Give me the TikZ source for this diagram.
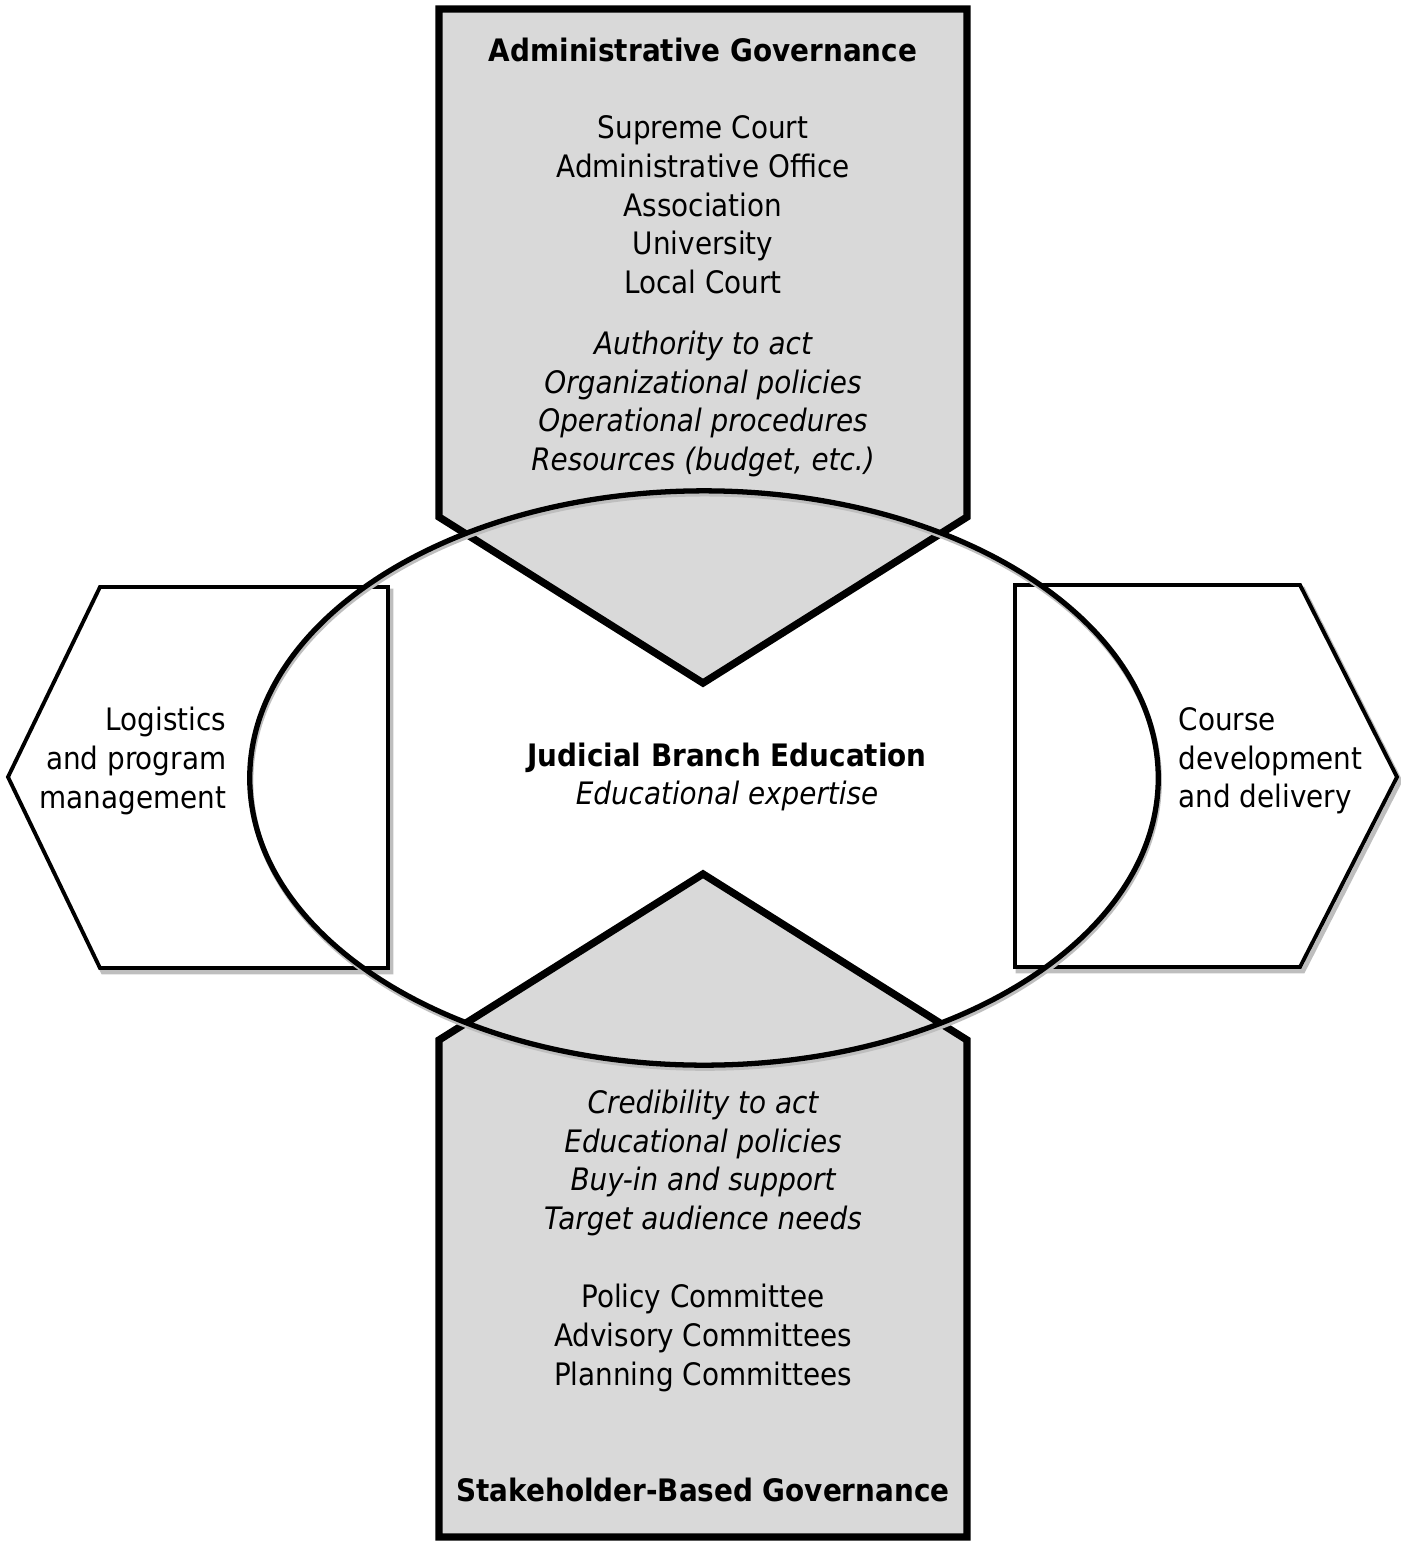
\documentclass[tikz,border=0pt]{standalone}
\usepackage{fontspec}
\setmainfont{DejaVu Sans}[FakeStretch=0.9]
\usetikzlibrary{calc}
\definecolor{govgray}{RGB}{217,217,217}
\definecolor{shadegray}{RGB}{190,190,190}

\begin{document}
\begin{tikzpicture}[x=0.01cm,y=-0.01cm,
	govbox/.style={draw=black,line width=2.1pt,fill=govgray,line join=miter},
	sidebox/.style={draw=black,line width=1.1pt,fill=white},
	sideshade/.style={draw=shadegray,line width=1.3pt,shift={(3,4)}},
	lbl/.style={font=\fontsize{8.8}{11}\selectfont,inner sep=0pt,align=center},
	lblit/.style={lbl,font=\fontsize{8.8}{11}\selectfont\itshape}]
\useasboundingbox (0,0) rectangle (1401,1545);
% side boxes
\fill[white] (0,0) rectangle (1401,1545);
\draw[sideshade] (100,587) -- (388,587) -- (388,968) -- (100,968) -- (8,777) -- cycle;
\draw[sidebox] (100,587) -- (388,587) -- (388,968) -- (100,968) -- (8,777) -- cycle;
\draw[sideshade] (1015,585) -- (1300,585) -- (1397,777) -- (1300,967) -- (1015,967) -- cycle;
\draw[sidebox] (1015,585) -- (1300,585) -- (1397,777) -- (1300,967) -- (1015,967) -- cycle;
% governance arrows
\draw[govbox] (439,9) -- (967,9) -- (967,517) -- (703,683) -- (439,517) -- cycle;
\draw[govbox] (439,1537) -- (967,1537) -- (967,1040) -- (703,874) -- (439,1040) -- cycle;
% the hub
\draw[draw=shadegray,line width=1.5pt] (705,781) ellipse [x radius=4.54cm,y radius=2.87cm];
\draw[line width=1.5pt] (704,778) ellipse [x radius=4.54cm,y radius=2.87cm];
% texts
\node[lbl] (admtitle) at (703,50) {\textbf{Administrative Governance}};
\node[lbl] (admbodies) at (703,205) {Supreme Court\\Administrative Office\\Association\\University\\Local Court};
\node[lblit] (admroles) at (703,404) {Authority to act\\Organizational policies\\Operational procedures\\Resources (budget, etc.)};
\node[lbl] (hub) at (727,777) {\textbf{Judicial Branch Education}\\\textit{Educational expertise}};
\node[lblit] (stkroles) at (703,1163) {Credibility to act\\Educational policies\\Buy-in and support\\Target audience needs};
\node[lbl] (stkbodies) at (703,1338) {Policy Committee\\Advisory Committees\\Planning Committees};
\node[lbl] (stktitle) at (703,1490) {\textbf{Stakeholder-Based Governance}};
\node[lbl,align=right,anchor=east] (logistics) at (227,761) {Logistics\\and program\\management};
\node[lbl,align=left,anchor=west] (course) at (1178,761) {Course\\development\\and delivery};
\end{tikzpicture}
\end{document}
